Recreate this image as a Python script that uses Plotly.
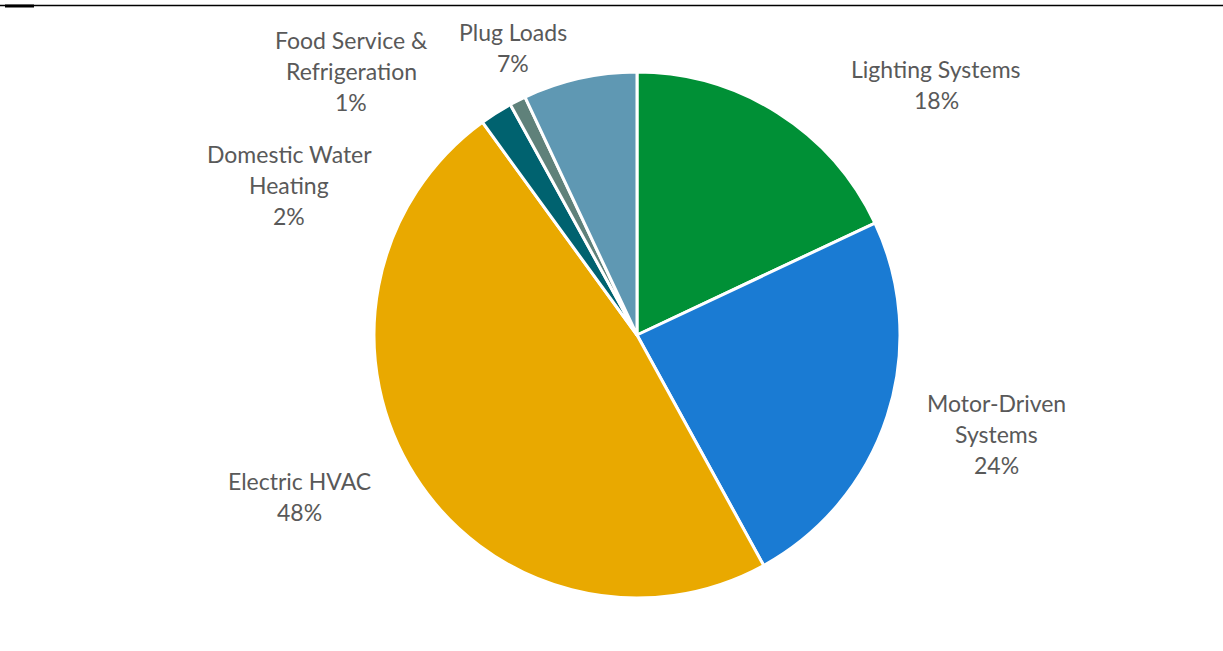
import plotly.graph_objects as go

# Electricity end-use shares (percent)
categories = ["Lighting Systems", "Motor-Driven Systems", "Electric HVAC",
              "Domestic Water Heating", "Food Service & Refrigeration", "Plug Loads"]
shares = [18, 24, 48, 2, 1, 7]
slice_colors = ["#009036", "#1a7bd3", "#e9a900", "#00626f", "#5f817a", "#5f98b3"]

# Wrapped label text for each slice
label_lines = [
    ["Lighting Systems"],
    ["Motor-Driven", "Systems"],
    ["Electric HVAC"],
    ["Domestic Water", "Heating"],
    ["Food Service &", "Refrigeration"],
    ["Plug Loads"],
]
# Label anchor centres in pixels (x, y of the first line)
label_pos = [(936, 69), (996, 403), (299, 481), (289, 154), (351, 40), (513, 32)]

W, H = 1223, 651
cx, cy, r = 637, 335, 263

fig = go.Figure(go.Pie(
    labels=categories,
    values=shares,
    sort=False,
    direction="clockwise",
    rotation=0,
    marker=dict(colors=slice_colors, line=dict(color="white", width=3)),
    textinfo="none",
    hoverinfo="label+percent",
    showlegend=False,
    domain=dict(x=[(cx - r) / W, (cx + r) / W], y=[1 - (cy + r) / H, 1 - (cy - r) / H]),
))

line_h = 31
annotations = []
for lines, val, (lx, ly) in zip(label_lines, shares, label_pos):
    all_lines = lines + [f"{val}%"]
    for i, t in enumerate(all_lines):
        annotations.append(dict(
            x=lx / W, y=1 - (ly + i * line_h) / H, xref="paper", yref="paper",
            text=t, showarrow=False, xanchor="center", yanchor="middle",
            font=dict(family="Lato, Carlito, sans-serif", size=23, color="#595959"),
        ))

shapes = [
    dict(type="line", xref="paper", yref="paper", x0=0, x1=1,
         y0=1 - 5.5 / H, y1=1 - 5.5 / H, line=dict(color="black", width=1.5)),
    dict(type="rect", xref="paper", yref="paper", x0=5 / W, x1=34 / W,
         y0=1 - 7.5 / H, y1=1 - 4.5 / H, line=dict(width=0), fillcolor="black"),
]

fig.update_layout(
    width=W, height=H,
    margin=dict(l=0, r=0, t=0, b=0),
    paper_bgcolor="white", plot_bgcolor="white",
    annotations=annotations, shapes=shapes,
)

fig.write_html("out.html")
